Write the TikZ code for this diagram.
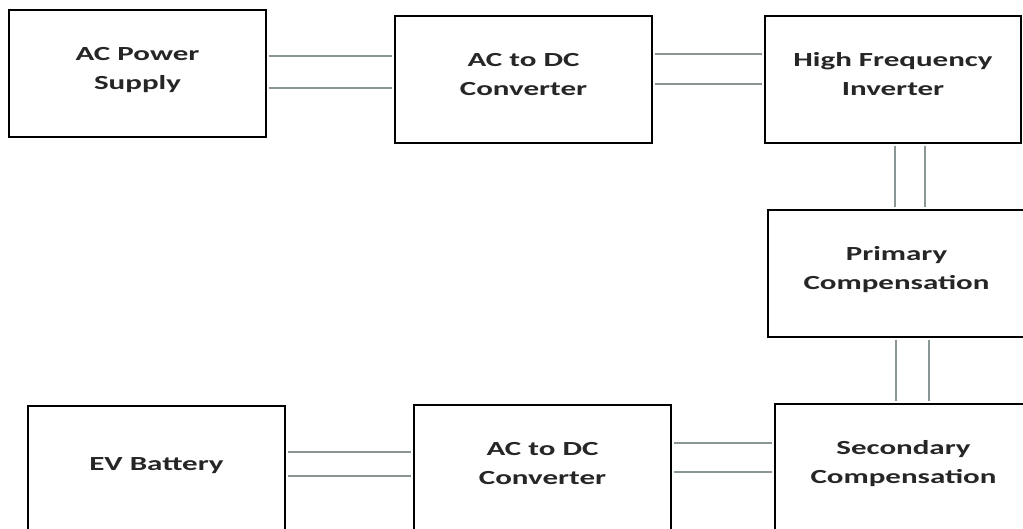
\documentclass[tikz,border=0pt]{standalone}
\usepackage{fontspec}
\newfontfamily\blockfont{Carlito}[FakeStretch=1.55]
\definecolor{wiregray}{RGB}{138,150,150}
\begin{document}
\begin{tikzpicture}[x=1pt,y=-1pt,
  block/.style={draw=black,line width=2.6pt,minimum width=257pt,minimum height=127pt,
    inner sep=0pt,align=center,text=black!85,text depth=11pt,
    font=\blockfont\bfseries\fontsize{20}{29}\selectfont},
  wire/.style={wiregray,line width=1.4pt,shorten <=1.3pt,shorten >=1.3pt}]
  \useasboundingbox (0,0) rectangle (1023,529);
  \fill[white] (0,0) rectangle (1023,529);
  \clip (0,0) rectangle (1023,529);
  \node[block] (psu) at (137.5,73.5) {AC Power\\Supply};
  \node[block] (rect1) at (523.5,79.5) {AC to DC\\Converter};
  \node[block,minimum width=256pt] (inv) at (893,79.5) {High Frequency\\Inverter};
  \node[block] (pri) at (896.5,273.5) {Primary\\Compensation};
  \node[block] (sec) at (903.5,467.5) {Secondary\\Compensation};
  \node[block] (rect2) at (542.5,468.5) {AC to DC\\Converter};
  \node[block] (bat) at (156.5,469.5) {EV Battery};
  \foreach \d in {17.5,-14.5} \draw[wire] ([yshift=\d pt]psu.east) -- ([yshift=\d pt]psu.east -| rect1.west);
  \foreach \d in {25.5,-4.5} \draw[wire] ([yshift=\d pt]rect1.east) -- ([yshift=\d pt]rect1.east -| inv.west);
  \foreach \d in {2,32} \draw[wire] ([xshift=\d pt]inv.south) -- ([xshift=\d pt]inv.south |- pri.north);
  \foreach \d in {-0.5,32.5} \draw[wire] ([xshift=\d pt]pri.south) -- ([xshift=\d pt]pri.south |- sec.north);
  \foreach \d in {25.5,-3.5} \draw[wire] ([yshift=\d pt]rect2.east) -- ([yshift=\d pt]rect2.east -| sec.west);
  \foreach \d in {17.5,-6.5} \draw[wire] ([yshift=\d pt]bat.east) -- ([yshift=\d pt]bat.east -| rect2.west);
\end{tikzpicture}
\end{document}
